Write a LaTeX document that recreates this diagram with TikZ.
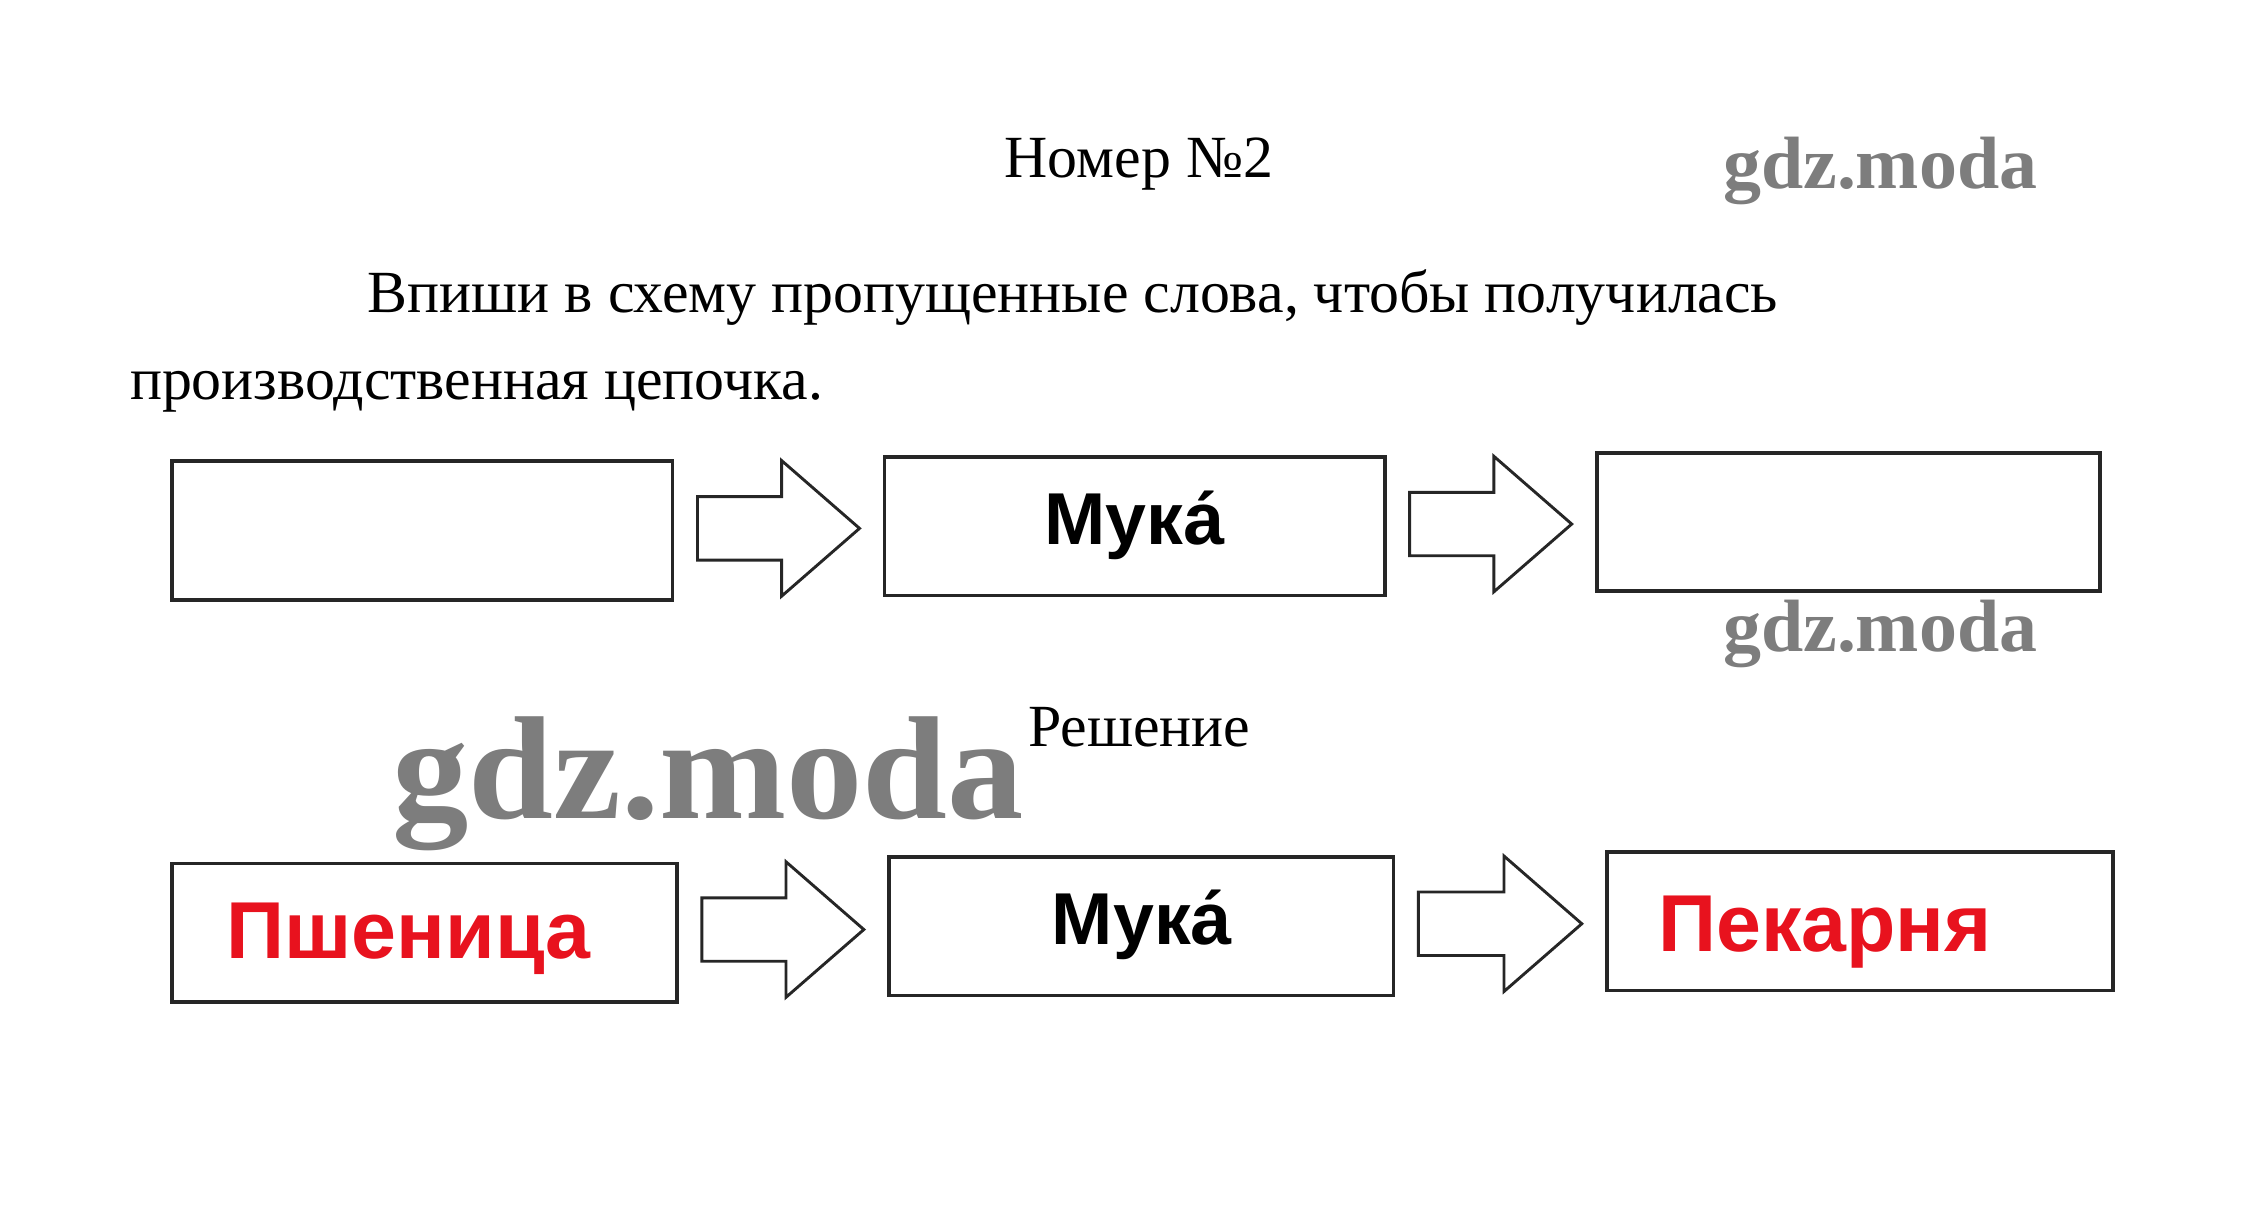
\documentclass[tikz,border=0pt]{standalone}
\usepackage{fontspec}
\setmainfont{Liberation Serif}
\newfontfamily\boxfont{Liberation Sans}
\usetikzlibrary{calc}
\definecolor{ansred}{RGB}{232,18,30}
\definecolor{wmgray}{RGB}{125,125,125}
\tikzset{
  chainbox/.style={draw=black!85, line width=2.6pt, minimum width=#1, minimum height=96pt, inner sep=0pt, fill=white},
  chainbox/.default=347pt,
  blockarrow/.style={draw=black!85, line width=2pt, line join=miter, fill=white},
  plaintext/.style={inner sep=0pt, font=\fontsize{41.5}{50}\selectfont},
  boxword/.style={inner sep=0pt, anchor=base, font=\boxfont\bfseries\fontsize{51}{60}\selectfont},
  answer/.style={inner sep=0pt, text=ansred, font=\boxfont\bfseries\fontsize{56}{66}\selectfont},
  watermark/.style={inner sep=0pt, anchor=north west, text=wmgray, font=\bfseries}
}
\newcommand{\blockarr}[3]{% from node #1 to node #2, name #3
  \path let \p1=(#1.east), \p2=(#2.west) in
    coordinate (#3-a) at (\x1+16pt,{(\y1+\y2)/2})
    coordinate (#3-t) at (\x2-16pt,{(\y1+\y2)/2});
  \draw[blockarrow] let \p1=(#3-a), \p2=(#3-t) in
    (\x1,\y1+22pt) -- (\x2-54pt,\y1+22pt) -- (\x2-54pt,\y1+47pt) -- (\x2,\y2)
    -- (\x2-54pt,\y1-47pt) -- (\x2-54pt,\y1-22pt) -- (\x1,\y1-22pt) -- cycle;
}
\begin{document}
\begin{tikzpicture}[x=1pt,y=-1pt]
\useasboundingbox[fill=white] (0,0) rectangle (1560,852.5);

% header
\node[plaintext, anchor=base] (title) at (790,123) {Номер №2};
\node[plaintext, anchor=base west] (task1) at (255,217) {Впиши в схему пропущенные слова, чтобы получилась};
\node[plaintext, anchor=base west] (task2) at (90,277) {производственная цепочка.};

% watermarks
\node[watermark] (wm1) at (1195,95) {\resizebox*{218pt}{47pt}{gdz.moda}};
\node[watermark] (wm2) at (1195,416) {\resizebox*{218pt}{47pt}{gdz.moda}};
\node[watermark] (wm3) at (272,497) {\resizebox*{438pt}{93pt}{gdz.moda}};

% row 1
\node[chainbox] (a1) at (293,368) {};
\node[chainbox] (b1) at (787,365) {};
\node[chainbox=349pt] (c1) at (1282,362) {};
\blockarr{a1}{b1}{r1}
\blockarr{b1}{c1}{r2}
\node[boxword] (m1) at (787,378) {Мука́};

% solution label
\node[plaintext, anchor=base west] (sol) at (713,518) {Решение};

% row 2
\node[chainbox=350pt] (a2) at (294.5,647) {};
\node[chainbox=350pt] (b2) at (791.5,642.5) {};
\node[chainbox=351pt] (c2) at (1290,639) {};
\blockarr{a2}{b2}{s1}
\blockarr{b2}{c2}{s2}
\node[answer, anchor=base west] (w2) at (157,665) {Пшеница};
\node[boxword] (m2) at (792,655) {Мука́};
\node[answer, anchor=base west] (p2) at (1150,660) {Пекарня};
\end{tikzpicture}
\end{document}
